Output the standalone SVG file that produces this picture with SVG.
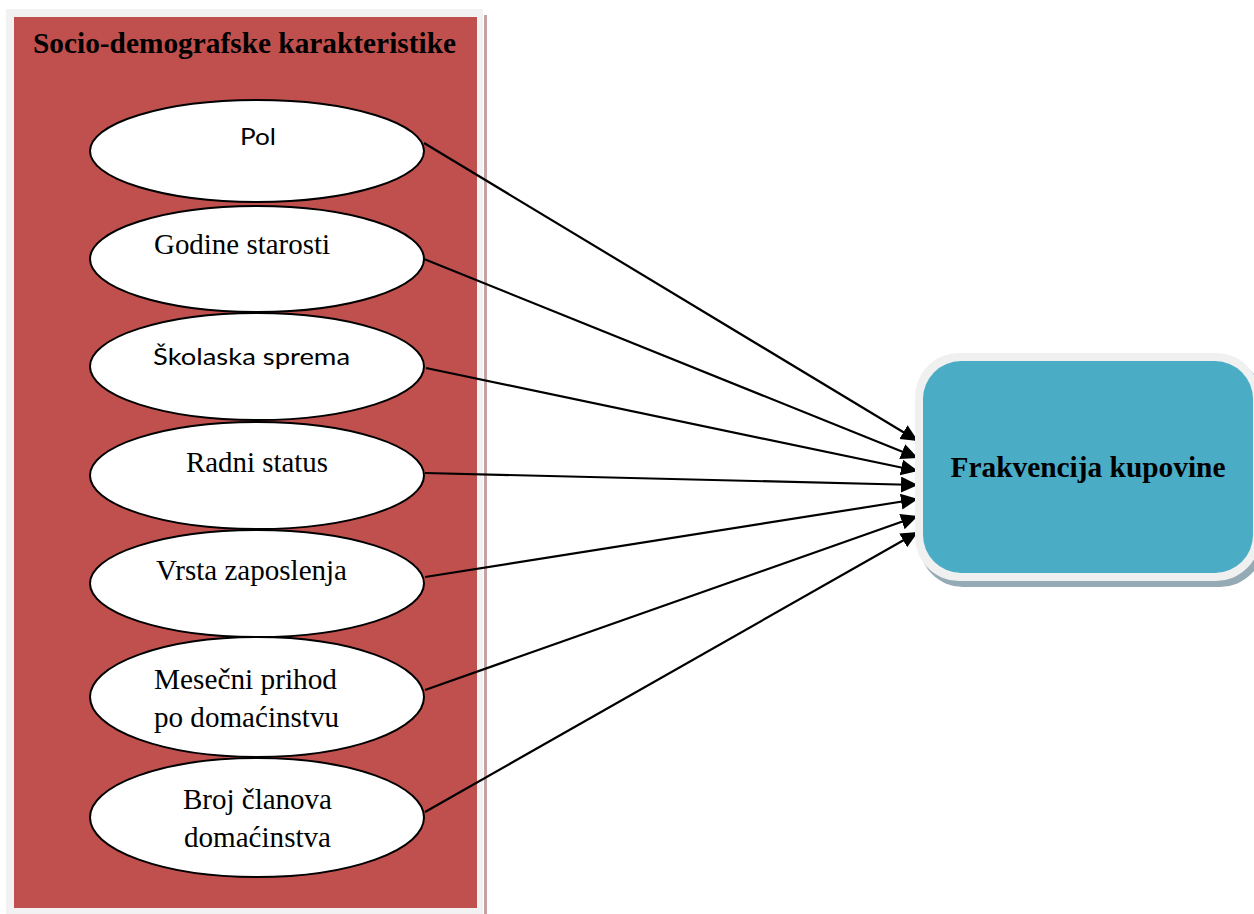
<svg xmlns="http://www.w3.org/2000/svg" width="1254" height="914" viewBox="0 0 1254 914">
<defs>
<style>
.ell{fill:#ffffff;stroke:#000000;stroke-width:2}
.serif{font-family:"Liberation Serif","Times New Roman",serif;font-size:28.5px;fill:#000}
.sans{font-family:Lato,"Liberation Sans",sans-serif;font-size:24px;fill:#000}
.bold{font-family:"Liberation Serif","Times New Roman",serif;font-size:29px;font-weight:bold;fill:#000}
.conn line{stroke:#000;stroke-width:2.2;marker-end:url(#arr)}
</style>
<marker id="arr" markerUnits="userSpaceOnUse" markerWidth="20" markerHeight="18" refX="17" refY="8" orient="auto">
<path d="M0,0 L17,8 L0,16 Z" fill="#000"/>
</marker>
</defs>
<rect width="1254" height="914" fill="#ffffff"/>
<g id="group-box">
<rect x="484" y="15" width="3" height="899" fill="#c4a3a4"/>
<rect x="6" y="9" width="477" height="905" fill="#f2f2f2"/>
<rect x="14" y="17" width="463" height="891" fill="#c0504d"/>
<text class="bold" x="33" y="53" textLength="423" lengthAdjust="spacingAndGlyphs">Socio-demografske karakteristike</text>
</g>
<g class="conn" id="connectors">
<line x1="424" y1="143" x2="918" y2="441"/>
<line x1="424" y1="259" x2="918" y2="458"/>
<line x1="426" y1="368" x2="918" y2="471"/>
<line x1="425" y1="473" x2="918" y2="485"/>
<line x1="425" y1="577" x2="918" y2="499"/>
<line x1="425" y1="690" x2="918" y2="516"/>
<line x1="425" y1="812" x2="918" y2="532"/>
</g>
<g id="n-pol">
<ellipse class="ell" cx="257" cy="151" rx="167" ry="51"/>
<text class="sans" x="240" y="145" textLength="36" lengthAdjust="spacingAndGlyphs">Pol</text>
</g>
<g id="n-godine">
<ellipse class="ell" cx="257" cy="259" rx="167" ry="53"/>
<text class="serif" x="154" y="254" textLength="176" lengthAdjust="spacingAndGlyphs">Godine starosti</text>
</g>
<g id="n-skolaska">
<ellipse class="ell" cx="257" cy="366.5" rx="167" ry="53.5"/>
<text class="sans" x="153" y="365" textLength="197" lengthAdjust="spacingAndGlyphs">Školaska sprema</text>
</g>
<g id="n-radni">
<ellipse class="ell" cx="257" cy="475.5" rx="167" ry="53.5"/>
<text class="serif" x="186" y="472" textLength="142" lengthAdjust="spacingAndGlyphs">Radni status</text>
</g>
<g id="n-vrsta">
<ellipse class="ell" cx="257" cy="583.5" rx="167" ry="53.5"/>
<text class="serif" x="156" y="580" textLength="191" lengthAdjust="spacingAndGlyphs">Vrsta zaposlenja</text>
</g>
<g id="n-mesecni">
<ellipse class="ell" cx="257" cy="697" rx="167" ry="60"/>
<text class="serif" x="154" y="689" textLength="183" lengthAdjust="spacingAndGlyphs">Mesečni prihod</text>
<text class="serif" x="154" y="727" textLength="185" lengthAdjust="spacingAndGlyphs">po domaćinstvu</text>
</g>
<g id="n-broj">
<ellipse class="ell" cx="257" cy="817.5" rx="167" ry="59.5"/>
<text class="serif" x="183" y="809" textLength="149" lengthAdjust="spacingAndGlyphs">Broj članova</text>
<text class="serif" x="184" y="847" textLength="147" lengthAdjust="spacingAndGlyphs">domaćinstva</text>
</g>
<g id="n-frekvencija">
<rect x="919" y="358" width="345" height="229" rx="44" fill="#94abb6"/>
<rect x="915" y="353" width="345" height="228" rx="44" fill="#f0f0f0"/>
<rect x="923" y="361" width="330" height="212" rx="38" fill="#4bacc6"/>
<text class="bold" x="1088" y="477" text-anchor="middle" textLength="275" lengthAdjust="spacingAndGlyphs">Frakvencija kupovine</text>
</g>
</svg>
